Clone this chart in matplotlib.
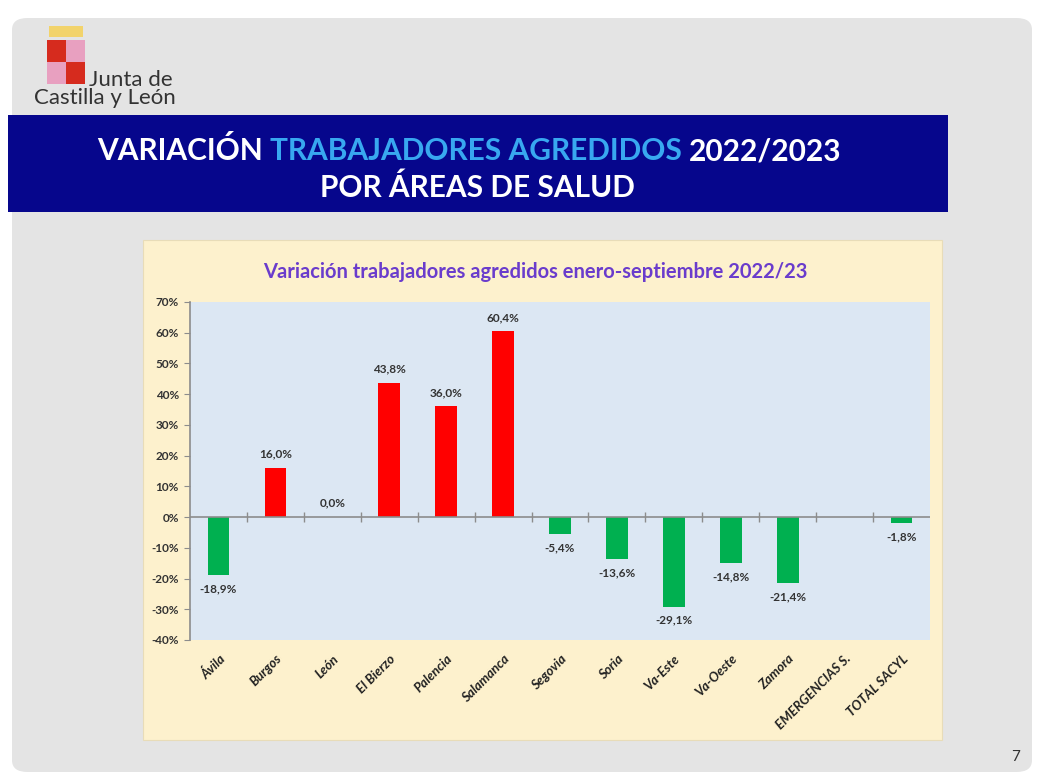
import numpy as np
import matplotlib
matplotlib.use("Agg")
import matplotlib.pyplot as plt
import matplotlib.transforms as mtransforms
from matplotlib.patches import Rectangle, FancyBboxPatch

plt.rcParams["font.family"] = ["Lato", "DejaVu Sans"]

# datos
areas = ["Ávila", "Burgos", "León", "El Bierzo", "Palencia", "Salamanca", "Segovia",
         "Soria", "Va-Este", "Va-Oeste", "Zamora", "EMERGENCIAS S.", "TOTAL SACYL"]
variacion = [-18.9, 16.0, 0.0, 43.8, 36.0, 60.4, -5.4, -13.6, -29.1, -14.8, -21.4, None, -1.8]
y_ticks = [-40, -30, -20, -10, 0, 10, 20, 30, 40, 50, 60, 70]

W, H = 1040, 783
fig = plt.figure(figsize=(W / 100, H / 100), dpi=100, facecolor="white")


def fx(px):
    return px / W


def fy(py):
    return 1 - py / H


def caja(x0, y0, x1, y1, **kw):
    fig.patches.append(Rectangle((fx(x0), fy(y1)), fx(x1 - x0), fy(y0) - fy(y1),
                                 transform=fig.transFigure, **kw))


# fondo de la diapositiva
fig.patches.append(FancyBboxPatch((fx(12), fy(772)), fx(1020), fy(18) - fy(772),
                                  boxstyle="round,pad=0,rounding_size=0.015",
                                  transform=fig.transFigure, facecolor="#e4e4e4",
                                  edgecolor="none", zorder=0))

# logo
caja(49, 26, 83, 37, facecolor="#f2d36b", edgecolor="none")
caja(47, 40, 66, 62, facecolor="#d62b1e", edgecolor="none")
caja(66, 40, 85, 62, facecolor="#e8a0c0", edgecolor="none")
caja(47, 62, 66, 84, facecolor="#e8a0c0", edgecolor="none")
caja(66, 62, 85, 84, facecolor="#d62b1e", edgecolor="none")
fig.text(fx(89), fy(80), "Junta de", fontsize=16, color="#333333", va="center", ha="left")
fig.text(fx(34), fy(98), "Castilla y León", fontsize=16, color="#333333", va="center", ha="left")

# banda del título
caja(8, 115, 948, 212, facecolor="#06068c", edgecolor="none")
t1 = fig.text(fx(97), fy(151), "VARIACIÓN ", fontsize=21.5, fontweight="bold",
              color="white", va="center", ha="left")
fig.canvas.draw()
r = fig.canvas.get_renderer()
bb = t1.get_window_extent(r)
t2 = fig.text(bb.x1 / W, fy(151), "TRABAJADORES AGREDIDOS ", fontsize=21.5, fontweight="bold",
              color="#38a8f0", va="center", ha="left")
bb = t2.get_window_extent(r)
fig.text(bb.x1 / W, fy(151), "2022/2023", fontsize=21.5, fontweight="bold",
         color="white", va="center", ha="left")
fig.text(fx(477), fy(188), "POR ÁREAS DE SALUD", fontsize=21.5, fontweight="bold",
         color="white", va="center", ha="center")

# panel del gráfico
caja(143, 240, 942, 740, facecolor="#fdf1cd", edgecolor="#e8dcb8", lw=0.8)
fig.text(fx(535), fy(272), "Variación trabajadores agredidos enero-septiembre 2022/23",
         fontsize=14.5, fontweight="bold", color="#6a3ccc", ha="center", va="center")

ax = fig.add_axes([fx(190), fy(640), fx(740), fy(302) - fy(640)])
ax.set_zorder(5)
ax.set_facecolor("#dce7f3")

x = np.arange(len(areas))
vals = np.array([np.nan if v is None else v for v in variacion])
colors = ["#ff0000" if (v is not None and v > 0) else "#00b050" for v in variacion]
ax.bar(x, np.nan_to_num(vals), width=0.38, color=colors, zorder=2)

ax.axhline(0, color="#8c8c8c", lw=1.2, zorder=3)
bounds = np.arange(len(areas) - 1) + 0.5
ax.plot(bounds, np.zeros_like(bounds), ls="none", marker="|", ms=7, mew=1,
        color="#8c8c8c", zorder=3)

for xi, v in zip(x, variacion):
    if v is None:
        continue
    lab = f"{v:.1f}%".replace(".", ",")
    if v >= 0:
        ax.annotate(lab, (xi, v), xytext=(0, 6), textcoords="offset points",
                    ha="center", va="bottom", fontsize=8.5, fontweight="bold", color="#333333")
    else:
        ax.annotate(lab, (xi, v), xytext=(0, -6), textcoords="offset points",
                    ha="center", va="top", fontsize=8.5, fontweight="bold", color="#333333")

ax.set_xlim(-0.5, len(areas) - 0.5)
ax.set_ylim(-40, 70)
ax.set_yticks(y_ticks)
ax.set_yticklabels([f"{t}%" for t in y_ticks], fontsize=8.5, fontweight="bold", color="#333333")
ax.set_xticks(x)
ax.set_xticklabels(areas, rotation=45, ha="right", rotation_mode="anchor", fontsize=9.5,
                   fontweight="bold", style="italic", color="#222222")
shift = mtransforms.ScaledTranslation(10 / 100, 0, fig.dpi_scale_trans)
for lbl in ax.get_xticklabels():
    lbl.set_transform(lbl.get_transform() + shift)
ax.tick_params(axis="x", length=0, pad=9)
ax.tick_params(axis="y", length=4, direction="out", color="#8c8c8c", pad=4)
for s in ["top", "right", "bottom"]:
    ax.spines[s].set_visible(False)
ax.spines["left"].set_color("#8c8c8c")
ax.spines["left"].set_linewidth(1.2)

fig.text(fx(1016), fy(757), "7", fontsize=11, color="#333333", ha="center", va="center")

fig.savefig("out.png", dpi=100, facecolor=fig.get_facecolor())
